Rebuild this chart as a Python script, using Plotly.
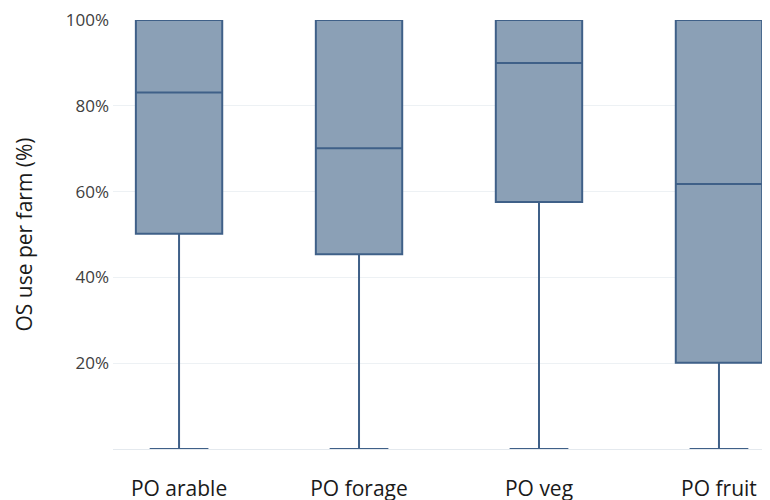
import plotly.graph_objects as go

categories = ["PO arable", "PO forage", "PO veg", "PO fruit"]
q1_vals = [50.2, 45.4, 57.6, 20.1]
median_vals = [83.1, 70.1, 90.0, 61.8]
q3_vals = [100, 100, 100, 100]
min_vals = [0, 0, 0, 0]
max_vals = [100, 100, 100, 100]
y_ticks = [20, 40, 60, 80, 100]
y_tick_labels = ["20%", "40%", "60%", "80%", "100%"]

fig = go.Figure()
fig.add_trace(go.Box(
    x=categories,
    q1=q1_vals,
    median=median_vals,
    q3=q3_vals,
    lowerfence=min_vals,
    upperfence=max_vals,
    fillcolor="rgba(139,160,182,1)",
    line=dict(color="#3f6088", width=2),
    whiskerwidth=0.68,
    width=0.48,
    boxpoints=False,
    hoverinfo="skip",
    showlegend=False,
))

font_family = "'Open Sans', Lato, sans-serif"
fig.update_layout(
    width=770, height=500,
    margin=dict(l=105, r=0, t=9, b=59),
    paper_bgcolor="white",
    plot_bgcolor="white",
    font=dict(family=font_family, size=18, color="#404040"),
    xaxis=dict(
        range=[-0.367, 3.328],
        showgrid=False,
        showline=False,
        zeroline=False,
        ticks="",
        ticklabelstandoff=25,
        tickfont=dict(size=21, color="#1a1a1a"),
    ),
    yaxis=dict(
        range=[0, 100],
        tickvals=y_ticks,
        ticktext=y_tick_labels,
        showgrid=True,
        gridcolor="#edf1f4",
        gridwidth=1,
        zeroline=True,
        zerolinecolor="#e4e9ee",
        zerolinewidth=1,
        showline=False,
        ticks="",
        ticklabelstandoff=3,
        ticklabeloverflow="allow",
        tickfont=dict(size=17, color="#404040"),
        title=dict(text="OS use per farm (%)", font=dict(size=21, color="#1a1a1a"), standoff=27),
    ),
)

fig.write_html("out.html")
